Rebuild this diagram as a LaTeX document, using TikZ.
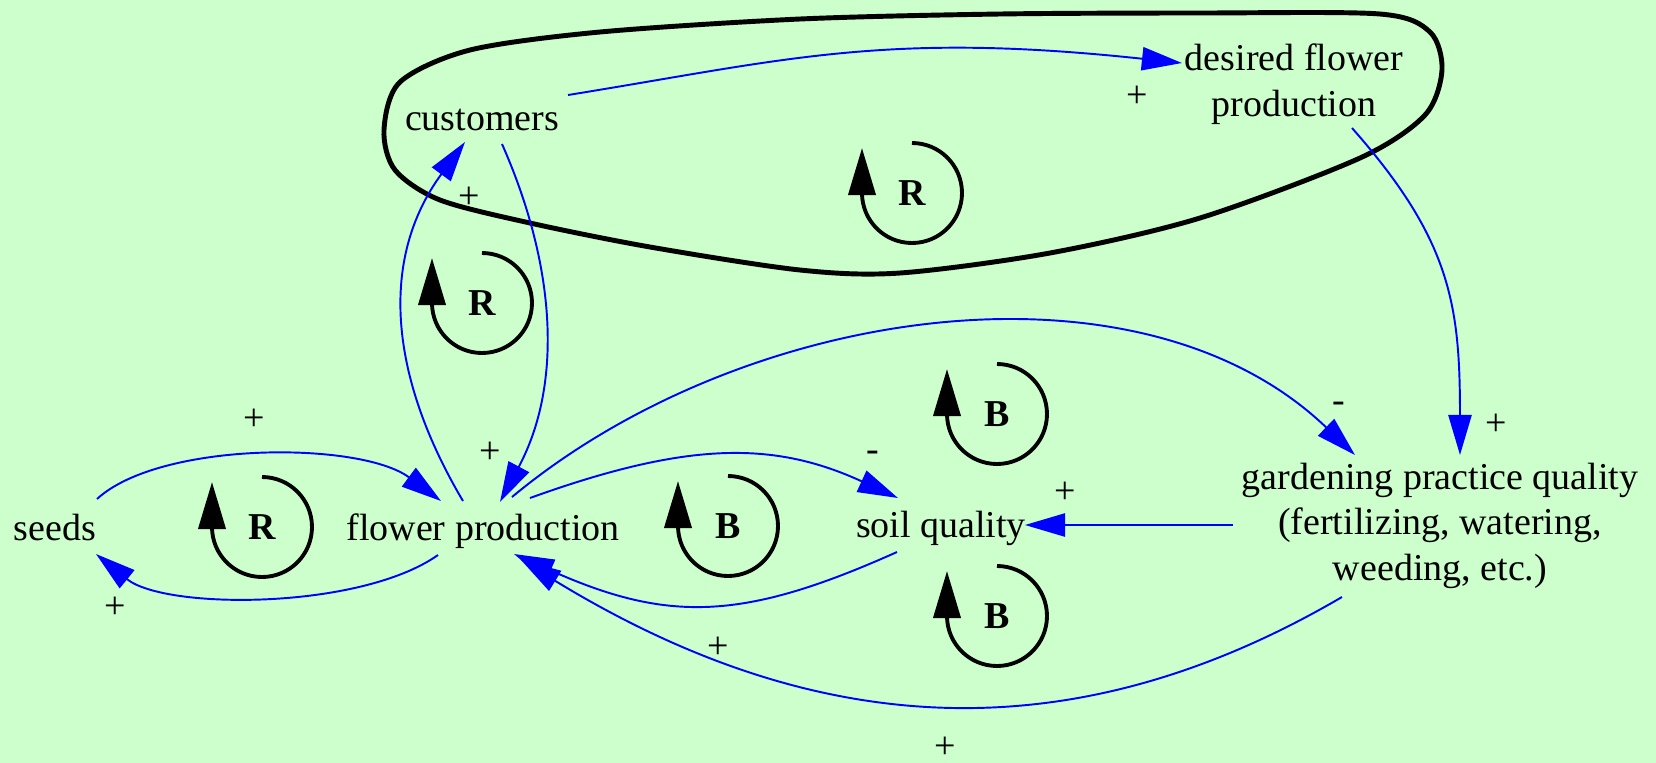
\documentclass[tikz,border=0pt]{standalone}
\usepackage{fontspec}
\setmainfont{Liberation Serif}
\usepackage{xcolor}
\definecolor{paper}{HTML}{CCFFCC}
\definecolor{linkblue}{HTML}{0000FF}
\usetikzlibrary{arrows.meta,calc}

\begin{document}
\begin{tikzpicture}[x=0.01cm, y=-0.01cm,
  every node/.style={font=\fontsize{10.8}{12.9}\selectfont, inner sep=0pt},
  var/.style={anchor=base, align=center},
  sign/.style={anchor=center},
  loopmark/.style={font=\fontsize{10.8}{12.9}\selectfont\bfseries},
  link/.style={draw=linkblue, line width=0.55pt, -{Triangle[length=11.4pt,width=6.6pt]}},
  loopline/.style={draw=black, line width=1.1pt, -{Triangle[length=13.4pt,width=7.7pt]}}]
\fill[paper] (0,0) rectangle (1656,763);
\useasboundingbox (0,0) rectangle (1656,763);
\node[var] (seeds) at (55,540) {seeds};
\node[var] (flowers) at (483,540) {flower production};
\node[var] (soil) at (941,537) {soil quality};
\node[var] (customers) at (482,130) {customers};
\node[var] (desired) at (1294,116) {desired flower\\production};
\node[var] (practice) at (1440,580) {gardening practice quality\\(fertilizing, watering,\\weeding, etc.)};
\draw[line width=1.4pt] plot[smooth cycle] coordinates {(384,130) (400,82) (470,50) (600,32) (800,19) (1000,14) (1200,13) (1380,14) (1430,32) (1442,70) (1425,115) (1360,158) (1200,218) (1050,253) (900,273) (800,270) (650,247) (530,223) (440,200) (395,170)};
\draw[link] ($(seeds.base)+(42,-41)$) .. controls +(63,-58) and +(-81,-60) .. ($(flowers.base)+(-42,-39)$);
\draw[link] ($(flowers.base)+(-45,15)$) .. controls +(-78,55) and +(69,56) .. ($(seeds.base)+(41,14)$);
\draw[link] ($(flowers.base)+(-20,-39)$) .. controls +(-74,-125) and +(-86,117) .. ($(customers.base)+(-17,12)$);
\draw[link] ($(customers.base)+(20,14)$) .. controls +(54,122) and +(63,-118) .. ($(flowers.base)+(17,-38)$);
\draw[link] ($(customers.base)+(86,-35)$) .. controls +(217,-35) and +(-298,-32) .. ($(desired.base)+(-112,-53)$);
\draw[link] ($(desired.base)+(58,12)$) .. controls +(99,112) and +(0,-150) .. ($(practice.base)+(20,-125)$);
\draw[link] ($(flowers.base)+(29,-43)$) .. controls +(231,-192) and +(-216,-207) .. ($(practice.base)+(-85,-125)$);
\draw[link] ($(flowers.base)+(47,-42)$) .. controls +(158,-57) and +(-124,-57) .. ($(soil.base)+(-43,-39)$);
\draw[link] ($(soil.base)+(-44,15)$) .. controls +(-154,69) and +(154,69) .. ($(flowers.base)+(31,14)$);
\draw[link] ($(practice.base)+(-207,-55)$) -- ($(soil.base)+(84,-12)$);
\draw[link] ($(practice.base)+(-98,17)$) .. controls +(-282,165) and +(282,172) .. ($(flowers.base)+(38,20)$);
\foreach \n/\x/\y/\s in {signA/254/420/+, signB/115/608/+, signC/469/198/+, signD/490/453/+,
  signE/1137/97/+, signF/1496/425/+, signG/1339/407/-, signH/873/456/-,
  signI/718/648/+, signJ/1065/493/+, signK/945/748/+}
  \node[sign] (\n) at (\x,\y) {\s};
\foreach \n/\x/\y/\t in {loopA/262/527/R, loopB/482/303/R, loopC/912/193/R,
  loopD/728/526/B, loopE/997/414/B, loopF/997/616/B}{
  \node[loopmark] (\n) at (\x,\y) {\t};
  \draw[loopline] ($(\n)+(0,-50)$) arc[start angle=-90, end angle=180, radius=50] -- ++(0,-45);
}
\end{tikzpicture}
\end{document}
